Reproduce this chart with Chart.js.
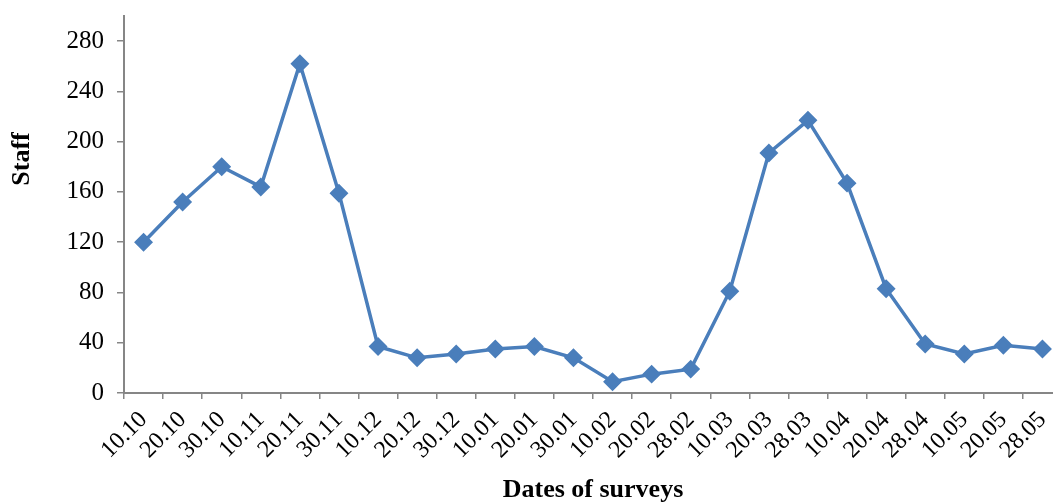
<!DOCTYPE html>
<html>
<head>
<meta charset="utf-8">
<script src="https://cdn.jsdelivr.net/npm/chart.js@4/dist/chart.umd.min.js"></script>
<style>
html,body{margin:0;padding:0;background:#fff;overflow:hidden;}
#wrap{width:1075px;height:503px;position:relative;}
</style>
</head>
<body>
<div id="wrap"><canvas id="c"></canvas></div>
<script>
const categories = ["10.10","20.10","30.10","10.11","20.11","30.11","10.12","20.12","30.12","10.01","20.01","30.01","10.02","20.02","28.02","10.03","20.03","28.03","10.04","20.04","28.04","10.05","20.05","28.05"];
const staff = [120,152,180,164,262,159,37,28,31,35,37,28,9,15,19,81,191,217,167,83,39,31,38,35];
const yTicks = [0,40,80,120,160,200,240,280];
const yTitle = "Staff";
const xTitle = "Dates of surveys";

const axisColor = '#868686';
const serif = "'Liberation Serif','Times New Roman',serif";

const yTitlePlugin = {
  id: 'yTitlePlugin',
  afterDraw(chart) {
    const ctx = chart.ctx;
    ctx.save();
    ctx.translate(22, 159);
    ctx.rotate(-Math.PI/2);
    ctx.font = "bold 26px " + serif;
    ctx.fillStyle = '#000';
    ctx.textAlign = 'center';
    ctx.textBaseline = 'middle';
    ctx.fillText(yTitle, 0, 0);
    ctx.restore();
  }
};

new Chart(document.getElementById('c'), {
  type: 'line',
  data: {
    labels: categories,
    datasets: [{
      data: staff,
      borderColor: '#4a7ebb',
      backgroundColor: '#4a7ebb',
      borderWidth: 3.5,
      pointStyle: 'rectRot',
      pointRadius: 7,
      pointHoverRadius: 7,
      tension: 0,
      fill: false
    }]
  },
  options: {
    responsive: true,
    maintainAspectRatio: false,
    animation: false,
    events: [],
    layout: { padding: { top: 16, right: 13, left: 0, bottom: 0 } },
    plugins: { legend: { display: false }, tooltip: { enabled: false } },
    scales: {
      x: {
        type: 'category',
        offset: true,
        grid: { display: true, drawOnChartArea: false, offset: true, tickLength: 6, color: axisColor, lineWidth: 1.5 },
        border: { display: true, color: axisColor, width: 2 },
        ticks: {
          color: '#000',
          font: { family: serif, size: 24 },
          maxRotation: 45, minRotation: 45,
          autoSkip: false,
          padding: 7
        },
        title: {
          display: true, text: xTitle, color: '#000',
          font: { family: serif, size: 26, weight: 'bold', lineHeight: 1 },
          padding: { top: 0, bottom: 0 }
        },
        afterFit(scale) { scale.height = 110; scale.paddingLeft = 0; scale.paddingRight = 0; }
      },
      y: {
        min: 0, max: 300,
        grid: { display: true, drawOnChartArea: false, tickLength: 7, color: axisColor, lineWidth: 1.5 },
        border: { display: true, color: axisColor, width: 2 },
        afterBuildTicks(scale) { scale.ticks = yTicks.map(v => ({ value: v })); },
        ticks: {
          color: '#000',
          font: { family: serif, size: 25 },
          padding: 13
        },
        afterFit(scale) { scale.width = 124; scale.paddingTop = 0; scale.paddingBottom = 0; }
      }
    }
  },
  plugins: [yTitlePlugin]
});
</script>
</body>
</html>
